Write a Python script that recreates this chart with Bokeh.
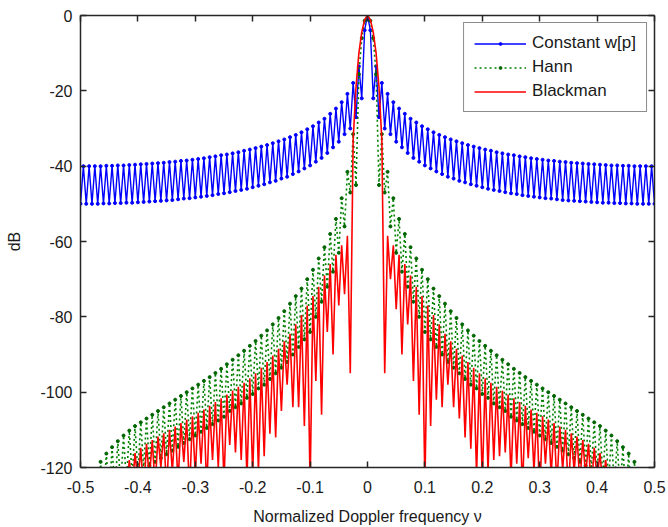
from bokeh.plotting import figure
from bokeh.models import Range1d, LinearAxis, FixedTicker, Legend, LegendItem, CustomJSTickFormatter
from bokeh.embed import file_html
from bokeh.resources import INLINE

# |nu| sample positions (normalized Doppler frequency), 0 .. 0.5
nu_abs = [0.0, 0.005, 0.01, 0.015, 0.02, 0.025, 0.03, 0.035, 0.04, 0.045,
          0.05, 0.055, 0.06, 0.065, 0.07, 0.075, 0.08, 0.085, 0.09, 0.095,
          0.1, 0.105, 0.11, 0.115, 0.12, 0.125, 0.13, 0.135, 0.14, 0.145,
          0.15, 0.155, 0.16, 0.165, 0.17, 0.175, 0.18, 0.185, 0.19, 0.195,
          0.2, 0.205, 0.21, 0.215, 0.22, 0.225, 0.23, 0.235, 0.24, 0.245,
          0.25, 0.255, 0.26, 0.265, 0.27, 0.275, 0.28, 0.285, 0.29, 0.295,
          0.3, 0.305, 0.31, 0.315, 0.32, 0.325, 0.33, 0.335, 0.34, 0.345,
          0.35, 0.355, 0.36, 0.365, 0.37, 0.375, 0.38, 0.385, 0.39, 0.395,
          0.4, 0.405, 0.41, 0.415, 0.42, 0.425, 0.43, 0.435, 0.44, 0.445,
          0.45, 0.455, 0.46, 0.465, 0.47, 0.475, 0.48, 0.485, 0.49, 0.495,
          0.5]

# Constant w[p] (dB), read at nu >= 0 (curve is symmetric)
const_pos = [0.0, -3.9, -22.0, -13.5, -27.0, -17.9, -30.0, -20.8, -31.5, -23.0,
             -33.5, -24.7, -35.0, -26.1, -36.5, -27.4, -37.8, -28.4, -38.8, -29.4,
             -39.8, -30.2, -40.6, -31.0, -41.4, -31.7, -42.1, -32.3, -42.8, -32.9,
             -43.3, -33.4, -43.9, -33.9, -44.3, -34.4, -44.8, -34.8, -45.2, -35.2,
             -45.6, -35.6, -46.0, -35.9, -46.3, -36.3, -46.6, -36.6, -46.9, -36.9,
             -47.2, -37.1, -47.4, -37.4, -47.7, -37.6, -47.9, -37.9, -48.1, -38.1,
             -48.3, -38.3, -48.5, -38.5, -48.6, -38.6, -48.8, -38.8, -49.0, -38.9,
             -49.1, -39.1, -49.2, -39.2, -49.3, -39.3, -49.4, -39.4, -49.5, -39.5,
             -49.6, -39.6, -49.7, -39.7, -49.7, -39.8, -49.8, -39.8, -49.8, -39.9,
             -49.9, -39.9, -49.9, -40.0, -50.0, -40.0, -50.0, -40.0, -50.0, -40.0,
             -50.0]

# Hann (dB), nu >= 0
hann_pos = [0.0, -1.4, -6.0, -15.6, -45.0, -31.5, -47.0, -41.5, -56.0, -48.5,
            -63.0, -54.0, -68.0, -58.0, -72.0, -61.5, -76.0, -64.5, -80.0, -67.5,
            -84.0, -70.0, -86.0, -72.5, -88.0, -74.5, -90.0, -76.5, -92.0, -78.5,
            -93.5, -80.3, -95.0, -82.0, -96.5, -83.6, -98.0, -85.0, -99.0, -86.4,
            -100.5, -87.7, -101.5, -89.0, -103.0, -90.2, -104.0, -91.4, -105.0, -92.6,
            -106.5, -93.8, -107.5, -94.9, -108.5, -96.0, -109.5, -97.0, -110.5, -98.0,
            -111.5, -99.0, -112.5, -100.0, -113.5, -101.0, -114.5, -102.0, -115.5, -103.0,
            -116.5, -104.0, -117.5, -105.0, -118.5, -106.0, -119.5, -107.0, -120.5, -108.0,
            -121.5, -109.0, -122.5, -110.2, -124.0, -111.5, -125.0, -113.0, -126.5, -114.6,
            -128.0, -116.3, -130.0, -118.5, -132.0, -121.0, -134.0, -123.5, -136.0, -126.0,
            -138.0]

# Blackman (dB), nu >= 0
black_pos = [0.0, -1.1, -4.4, -10.0, -19.0, -33.0, -95.0, -58.5, -70.0, -61.0,
             -78.0, -63.5, -90.0, -66.0, -82.0, -69.0, -97.0, -72.0, -106.0, -74.5,
             -125.0, -77.0, -109.0, -79.5, -102.0, -82.0, -104.0, -84.5, -98.0, -86.5,
             -104.0, -88.5, -107.0, -90.3, -112.0, -92.0, -115.0, -93.5, -122.0, -95.0,
             -124.0, -96.3, -121.0, -97.5, -118.0, -98.6, -117.0, -99.6, -116.0, -100.6,
             -123.0, -101.6, -119.0, -102.6, -126.0, -103.6, -117.5, -104.6, -121.0, -105.5,
             -128.0, -106.4, -119.0, -107.3, -122.0, -108.2, -125.0, -109.1, -120.5, -110.0,
             -127.0, -110.9, -121.0, -111.8, -124.0, -112.7, -122.0, -113.7, -126.0, -114.8,
             -123.0, -116.2, -125.0, -118.0, -127.0, -120.2, -128.0, -122.5, -130.0, -124.5,
             -132.0, -126.0, -134.0, -127.5, -135.0, -128.5, -136.0, -129.3, -137.0, -130.0,
             -138.0]

# Blackman (dB), nu <= 0, listed from nu = 0 outward to nu = -0.5
black_neg = [0.0, -1.1, -4.4, -10.0, -19.0, -33.0, -95.0, -58.5, -74.0, -61.0,
             -77.0, -63.5, -90.0, -66.0, -84.0, -69.0, -106.0, -72.0, -97.0, -74.5,
             -125.0, -77.0, -109.0, -79.5, -104.0, -82.0, -104.0, -84.5, -98.0, -86.5,
             -105.0, -88.5, -112.0, -90.3, -111.0, -92.0, -117.0, -93.5, -121.0, -95.0,
             -122.0, -96.3, -123.0, -97.5, -118.0, -98.6, -116.0, -99.6, -114.0, -100.6,
             -124.0, -101.6, -120.0, -102.6, -118.0, -103.6, -126.0, -104.6, -119.0, -105.5,
             -122.0, -106.4, -127.0, -107.3, -118.5, -108.2, -124.0, -109.1, -121.0, -110.0,
             -126.0, -110.9, -120.0, -111.8, -125.0, -112.7, -123.0, -113.7, -127.0, -114.8,
             -124.0, -116.2, -126.0, -118.0, -128.0, -120.2, -129.0, -122.5, -131.0, -124.5,
             -133.0, -126.0, -134.0, -127.5, -135.0, -128.5, -136.0, -129.3, -137.0, -130.0,
             -138.0]

series_names = ["Constant w[p]", "Hann", "Blackman"]
xtick_vals = [-0.5, -0.4, -0.3, -0.2, -0.1, 0.0, 0.1, 0.2, 0.3, 0.4, 0.5]
xtick_labels = ["-0.5", "-0.4", "-0.3", "-0.2", "-0.1", "0", "0.1", "0.2", "0.3", "0.4", "0.5"]
ytick_vals = [-120, -100, -80, -60, -40, -20, 0]
ytick_labels = ["-120", "-100", "-80", "-60", "-40", "-20", "0"]

nu = [-v for v in reversed(nu_abs)] + nu_abs[1:]


def both_sides(neg, pos):
    return list(reversed(neg)) + pos[1:]


const_db = both_sides(const_pos, const_pos)
hann_db = both_sides(hann_pos, hann_pos)
black_db = both_sides(black_neg, black_pos)

FONT = "Liberation Sans"
AX = "#262626"

p = figure(width=668, height=527, output_backend="svg", toolbar_location=None,
           x_range=Range1d(-0.5, 0.5), y_range=Range1d(-120, 0),
           min_border_left=80, min_border_right=14, min_border_top=15, min_border_bottom=60)
p.background_fill_color = "white"
p.border_fill_color = "white"
p.outline_line_color = None
p.xgrid.visible = False
p.ygrid.visible = False

bottom_axis = p.below[0]
left_axis = p.left[0]
top_axis = LinearAxis()
right_axis = LinearAxis()
p.add_layout(top_axis, "above")
p.add_layout(right_axis, "right")


def style_axis(ax, ticks, labels, show):
    ax.ticker = FixedTicker(ticks=ticks, minor_ticks=[])
    ax.axis_line_color = AX
    ax.axis_line_width = 1.5
    ax.major_tick_line_color = AX
    ax.major_tick_line_width = 1.5
    ax.major_tick_in = 6
    ax.major_tick_out = 0
    ax.minor_tick_in = 0
    ax.minor_tick_out = 0
    ax.major_label_text_font = FONT
    ax.major_label_text_color = "#1a1a1a"
    ax.major_label_text_font_size = "16px"
    if show:
        ax.major_label_overrides = {t: l for t, l in zip(ticks, labels)}
    else:
        ax.formatter = CustomJSTickFormatter(code="return ''")
        ax.major_label_standoff = 0


style_axis(bottom_axis, xtick_vals, xtick_labels, True)
style_axis(left_axis, ytick_vals, ytick_labels, True)
style_axis(top_axis, xtick_vals, xtick_labels, False)
style_axis(right_axis, ytick_vals, ytick_labels, False)

bottom_axis.major_label_standoff = 13
left_axis.major_label_standoff = 8
bottom_axis.axis_label = "Normalized Doppler frequency \u03bd"
left_axis.axis_label = "dB"
for ax in (bottom_axis, left_axis):
    ax.axis_label_text_font = FONT
    ax.axis_label_text_font_size = "16px"
    ax.axis_label_text_font_style = "normal"
    ax.axis_label_text_color = "#1a1a1a"
bottom_axis.axis_label_standoff = 12
left_axis.axis_label_standoff = 14

r_const = p.line(nu, const_db, line_color="#0000ff", line_width=1.4)
m_const = p.scatter(nu, const_db, marker="circle", size=3, fill_color="#0000ff", line_color="#0000ff")
r_hann = p.line(nu, hann_db, line_color="#008000", line_width=1.6, line_dash="2 3")
m_hann = p.scatter(nu, hann_db, marker="circle", size=3, fill_color="#006400", line_color="#006400")
r_black = p.line(nu, black_db, line_color="#ff0000", line_width=1.6)

legend = Legend(items=[LegendItem(label=series_names[0], renderers=[r_const, m_const]),
                       LegendItem(label=series_names[1], renderers=[r_hann, m_hann]),
                       LegendItem(label=series_names[2], renderers=[r_black])],
                location="top_right")
legend.margin = 7
legend.padding = 10
legend.spacing = 4
legend.glyph_width = 52
legend.glyph_height = 7
legend.label_height = 20
legend.label_standoff = 6
legend.label_text_font = FONT
legend.label_text_font_size = "17px"
legend.label_text_color = "#1a1a1a"
legend.border_line_color = "#1a1a1a"
legend.border_line_width = 1.2
legend.background_fill_color = "white"
legend.background_fill_alpha = 1.0
p.add_layout(legend)

open("out.html", "w").write(file_html(p, INLINE))
